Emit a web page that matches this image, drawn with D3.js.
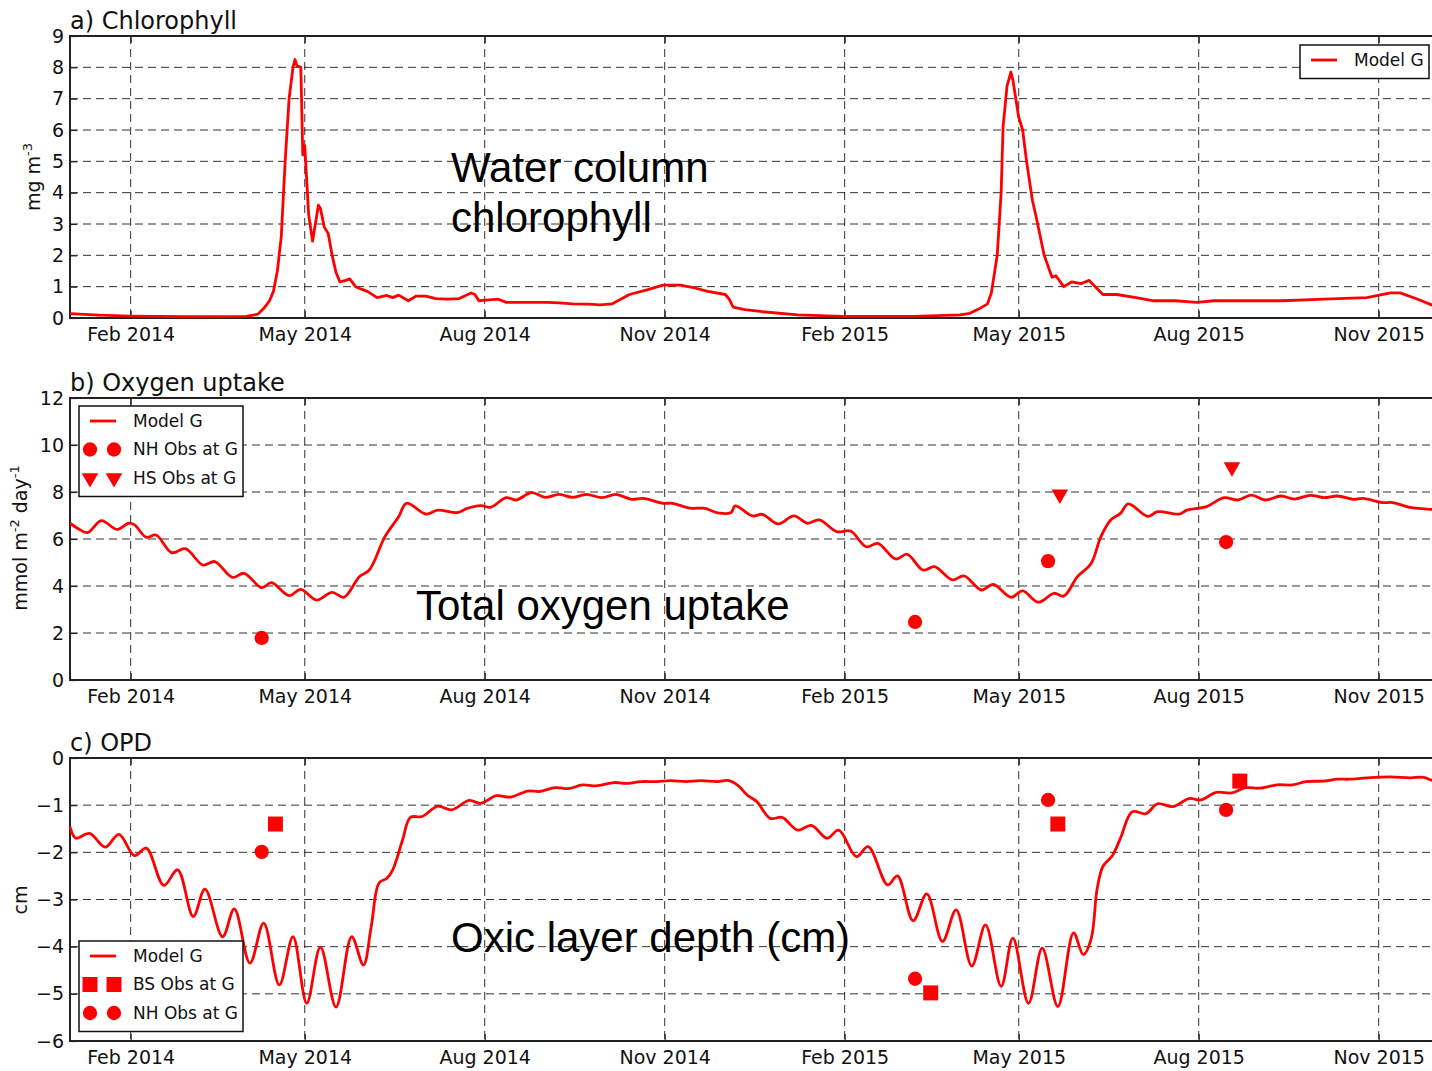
<!DOCTYPE html>
<html>
<head>
<meta charset="utf-8">
<script src="https://cdnjs.cloudflare.com/ajax/libs/d3/7.8.5/d3.min.js"></script>
<style>
  body { margin: 0; background: #fff; }
  svg { display: block; }
</style>
</head>
<body>
<div id="chart"></div>
<script>
// ---- data ----
const chlorophyll = [
  ["2014-01-01",0.14],["2014-01-16",0.09],["2014-02-01",0.06],["2014-03-02",0.04],["2014-04-01",0.05],
  ["2014-04-07",0.12],["2014-04-10",0.3],["2014-04-13",0.55],["2014-04-15",0.85],["2014-04-17",1.5],
  ["2014-04-19",2.6],["2014-04-21",5.0],["2014-04-23",7.0],["2014-04-25",8.0],["2014-04-26",8.25],
  ["2014-04-27",8.05],["2014-04-29",8.0],["2014-04-30",5.2],["2014-05-01",5.5],["2014-05-03",3.3],
  ["2014-05-05",2.45],["2014-05-08",3.6],["2014-05-09",3.5],["2014-05-11",2.9],["2014-05-13",2.7],
  ["2014-05-15",2.0],["2014-05-17",1.45],["2014-05-19",1.15],["2014-05-22",1.2],["2014-05-24",1.25],
  ["2014-05-27",1.0],["2014-05-30",0.92],["2014-06-02",0.85],["2014-06-07",0.65],["2014-06-12",0.72],
  ["2014-06-15",0.65],["2014-06-18",0.73],["2014-06-23",0.55],["2014-06-27",0.7],["2014-07-02",0.7],
  ["2014-07-07",0.62],["2014-07-13",0.6],["2014-07-19",0.62],["2014-07-25",0.8],["2014-07-27",0.75],
  ["2014-07-29",0.55],["2014-08-03",0.58],["2014-08-08",0.6],["2014-08-12",0.5],["2014-08-21",0.5],
  ["2014-09-02",0.5],["2014-09-08",0.48],["2014-09-15",0.45],["2014-09-23",0.44],["2014-09-29",0.42],
  ["2014-10-05",0.45],["2014-10-14",0.75],["2014-10-23",0.9],["2014-10-31",1.05],["2014-11-09",1.05],
  ["2014-11-17",0.95],["2014-11-23",0.85],["2014-12-02",0.75],["2014-12-04",0.6],["2014-12-06",0.35],
  ["2014-12-12",0.27],["2014-12-21",0.2],["2015-01-08",0.1],["2015-01-31",0.05],["2015-03-08",0.05],
  ["2015-04-01",0.1],["2015-04-06",0.15],["2015-04-11",0.3],["2015-04-15",0.45],["2015-04-17",0.8],
  ["2015-04-20",2.0],["2015-04-22",4.0],["2015-04-23",6.1],["2015-04-25",7.4],["2015-04-27",7.85],
  ["2015-04-28",7.6],["2015-05-01",6.4],["2015-05-03",6.0],["2015-05-05",5.0],["2015-05-08",3.75],
  ["2015-05-10",3.2],["2015-05-14",2.0],["2015-05-18",1.3],["2015-05-20",1.35],["2015-05-24",1.0],
  ["2015-05-28",1.15],["2015-06-02",1.1],["2015-06-06",1.2],["2015-06-13",0.75],["2015-06-20",0.75],
  ["2015-06-30",0.65],["2015-07-09",0.55],["2015-07-20",0.55],["2015-07-31",0.5],["2015-08-09",0.55],
  ["2015-08-19",0.55],["2015-09-13",0.55],["2015-10-04",0.6],["2015-10-26",0.65],["2015-11-07",0.8],
  ["2015-11-12",0.8],["2015-11-21",0.6],["2015-11-28",0.42],["2015-12-02",0.35]
];

const oxygenModel = [
  ["2014-01-01",6.67],["2014-01-05",6.45],["2014-01-10",6.27],["2014-01-17",6.78],["2014-01-25",6.41],
  ["2014-01-31",6.67],["2014-02-03",6.6],["2014-02-09",6.07],["2014-02-14",6.17],["2014-02-22",5.42],
  ["2014-03-01",5.59],["2014-03-10",4.89],["2014-03-16",5.04],["2014-03-25",4.37],["2014-03-31",4.54],
  ["2014-04-09",3.93],["2014-04-14",4.14],["2014-04-23",3.59],["2014-04-29",3.86],["2014-05-07",3.4],
  ["2014-05-15",3.73],["2014-05-21",3.52],["2014-05-29",4.4],["2014-06-03",4.68],["2014-06-11",6.1],
  ["2014-06-18",6.95],["2014-06-22",7.52],["2014-07-02",7.06],["2014-07-08",7.23],["2014-07-18",7.12],
  ["2014-07-23",7.3],["2014-07-30",7.42],["2014-08-04",7.35],["2014-08-12",7.76],["2014-08-17",7.66],
  ["2014-08-25",7.97],["2014-09-01",7.77],["2014-09-08",7.9],["2014-09-15",7.77],["2014-09-22",7.9],
  ["2014-09-30",7.76],["2014-10-07",7.9],["2014-10-15",7.69],["2014-10-21",7.73],["2014-10-31",7.52],
  ["2014-11-05",7.52],["2014-11-14",7.31],["2014-11-21",7.31],["2014-11-29",7.1],["2014-12-05",7.13],
  ["2014-12-07",7.41],["2014-12-16",6.98],["2014-12-21",7.05],["2014-12-29",6.64],["2015-01-06",6.98],
  ["2015-01-13",6.67],["2015-01-19",6.81],["2015-01-28",6.31],["2015-02-04",6.34],["2015-02-12",5.67],
  ["2015-02-18",5.81],["2015-02-27",5.15],["2015-03-05",5.35],["2015-03-13",4.68],["2015-03-19",4.82],
  ["2015-03-28",4.26],["2015-04-03",4.43],["2015-04-12",3.83],["2015-04-18",4.07],["2015-04-27",3.52],
  ["2015-05-03",3.79],["2015-05-11",3.31],["2015-05-19",3.69],["2015-05-24",3.57],["2015-05-31",4.4],
  ["2015-06-07",4.96],["2015-06-12",6.1],["2015-06-17",6.81],["2015-06-22",7.09],["2015-06-26",7.49],
  ["2015-07-06",6.96],["2015-07-11",7.16],["2015-07-22",7.06],["2015-07-26",7.23],["2015-08-05",7.38],
  ["2015-08-14",7.76],["2015-08-21",7.66],["2015-08-28",7.87],["2015-09-04",7.66],["2015-09-12",7.83],
  ["2015-09-19",7.7],["2015-09-27",7.86],["2015-10-04",7.76],["2015-10-11",7.83],["2015-10-19",7.69],
  ["2015-10-24",7.73],["2015-11-03",7.55],["2015-11-08",7.55],["2015-11-18",7.33],["2015-11-28",7.26],
  ["2015-12-02",7.24]
];
const oxygenNH = [["2014-04-09",1.79],["2015-03-09",2.47],["2015-05-16",5.06],["2015-08-15",5.87]];
const oxygenHS = [["2015-05-22",7.9],["2015-08-18",9.06]];

const opdModel = [
  ["2014-01-01",-1.46],["2014-01-04",-1.7],["2014-01-11",-1.6],["2014-01-19",-1.89],["2014-01-26",-1.62],
  ["2014-02-03",-2.07],["2014-02-09",-1.91],["2014-02-18",-2.7],["2014-02-25",-2.37],["2014-03-05",-3.36],
  ["2014-03-11",-2.78],["2014-03-20",-3.79],["2014-03-26",-3.2],["2014-04-03",-4.35],["2014-04-10",-3.5],
  ["2014-04-18",-4.81],["2014-04-25",-3.79],["2014-05-02",-5.2],["2014-05-09",-4.01],["2014-05-17",-5.28],
  ["2014-05-25",-3.79],["2014-05-31",-4.39],["2014-06-04",-3.57],["2014-06-08",-2.65],["2014-06-12",-2.55],
  ["2014-06-15",-2.37],["2014-06-20",-1.74],["2014-06-24",-1.26],["2014-06-30",-1.24],["2014-07-08",-1.02],
  ["2014-07-15",-1.1],["2014-07-24",-0.9],["2014-07-30",-0.96],["2014-08-07",-0.8],["2014-08-14",-0.83],
  ["2014-08-23",-0.7],["2014-08-29",-0.71],["2014-09-06",-0.63],["2014-09-13",-0.65],["2014-09-20",-0.57],
  ["2014-09-27",-0.59],["2014-10-06",-0.52],["2014-10-12",-0.54],["2014-10-20",-0.5],["2014-10-28",-0.5],
  ["2014-11-04",-0.48],["2014-11-12",-0.5],["2014-11-19",-0.48],["2014-11-28",-0.5],["2014-12-04",-0.48],
  ["2014-12-09",-0.6],["2014-12-13",-0.78],["2014-12-18",-0.92],["2014-12-25",-1.28],["2014-12-31",-1.26],
  ["2015-01-08",-1.53],["2015-01-15",-1.43],["2015-01-23",-1.7],["2015-01-29",-1.53],["2015-02-07",-2.09],
  ["2015-02-13",-1.88],["2015-02-23",-2.69],["2015-02-28",-2.5],["2015-03-08",-3.45],["2015-03-15",-2.88],
  ["2015-03-23",-3.89],["2015-03-30",-3.22],["2015-04-07",-4.41],["2015-04-14",-3.54],["2015-04-22",-4.84],
  ["2015-04-28",-3.82],["2015-05-06",-5.2],["2015-05-13",-4.03],["2015-05-21",-5.27],["2015-05-29",-3.71],
  ["2015-06-03",-4.17],["2015-06-07",-3.84],["2015-06-10",-2.8],["2015-06-13",-2.3],["2015-06-18",-2.06],
  ["2015-06-22",-1.7],["2015-06-28",-1.14],["2015-07-05",-1.18],["2015-07-11",-0.97],["2015-07-19",-1.03],
  ["2015-07-27",-0.86],["2015-08-02",-0.89],["2015-08-10",-0.73],["2015-08-18",-0.74],["2015-08-25",-0.63],
  ["2015-09-01",-0.64],["2015-09-10",-0.57],["2015-09-18",-0.57],["2015-09-25",-0.5],["2015-10-04",-0.49],
  ["2015-10-11",-0.45],["2015-10-17",-0.45],["2015-10-26",-0.42],["2015-11-07",-0.4],["2015-11-17",-0.42],
  ["2015-11-24",-0.41],["2015-11-28",-0.47],["2015-12-02",-0.5]
];
const opdBS = [["2014-04-16",-1.4],["2015-03-17",-4.98],["2015-05-21",-1.4],["2015-08-22",-0.49]];
const opdNH = [["2014-04-09",-1.99],["2015-03-09",-4.68],["2015-05-16",-0.89],["2015-08-15",-1.1]];

const monthTicks = ["2014-02-01","2014-05-01","2014-08-01","2014-11-01","2015-02-01","2015-05-01","2015-08-01","2015-11-01"];
const chlTicks = [0,1,2,3,4,5,6,7,8,9];
const o2Ticks = [0,2,4,6,8,10,12];
const opdTicks = [-6,-5,-4,-3,-2,-1,0];

// ---- layout ----
const W = 1432, H = 1071;
const RED = "#ff0000";
const FONT = "'DejaVu Sans', sans-serif";
const parse = d3.utcParse("%Y-%m-%d");
const fmtMonth = d3.utcFormat("%b %Y");

const svg = d3.select("#chart").append("svg")
  .attr("width", W).attr("height", H)
  .style("font-family", FONT);

const x = d3.scaleUtc()
  .domain([parse("2014-01-01"), parse("2016-01-01")])
  .range([70, 1498]);

function panel(top, bottom, domain, ticks, title) {
  const y = d3.scaleLinear().domain(domain).range([bottom, top]);
  const g = svg.append("g");
  const left = x.range()[0], right = x.range()[1];

  // grid
  g.selectAll(".hg").data(ticks.slice(1, -1)).enter().append("line")
    .attr("x1", left).attr("x2", right)
    .attr("y1", d => y(d)).attr("y2", d => y(d))
    .attr("stroke", "#000").attr("stroke-width", 1).attr("stroke-dasharray", "8,5").attr("opacity", 0.8);
  g.selectAll(".vg").data(monthTicks.map(parse)).enter().append("line")
    .attr("x1", d => x(d)).attr("x2", d => x(d))
    .attr("y1", top).attr("y2", bottom)
    .attr("stroke", "#000").attr("stroke-width", 1).attr("stroke-dasharray", "8,5").attr("opacity", 0.8);

  // axes with inward ticks
  const yAxis = g.append("g").attr("transform", "translate(" + left + ",0)")
    .call(d3.axisLeft(y).tickValues(ticks).tickSize(-7).tickPadding(6).tickFormat(d3.format("d")));
  yAxis.attr("font-family", null).attr("font-size", null);
  yAxis.select(".domain").remove();
  yAxis.selectAll("line").attr("stroke", "#222").attr("stroke-width", 1.2);
  yAxis.selectAll("text").style("font-family", FONT).style("font-size", "19px").attr("fill", "#111");

  const xAxis = g.append("g").attr("transform", "translate(0," + bottom + ")")
    .call(d3.axisBottom(x).tickValues(monthTicks.map(parse)).tickSize(-7).tickPadding(9.5).tickFormat(fmtMonth));
  xAxis.attr("font-family", null).attr("font-size", null);
  xAxis.select(".domain").remove();
  xAxis.selectAll("line").attr("stroke", "#222").attr("stroke-width", 1.2);
  xAxis.selectAll("text").style("font-family", FONT).style("font-size", "19px").attr("fill", "#111");

  const xTop = g.append("g").attr("transform", "translate(0," + top + ")")
    .call(d3.axisTop(x).tickValues(monthTicks.map(parse)).tickSize(-7).tickFormat(""));
  xTop.select(".domain").remove();
  xTop.selectAll("line").attr("stroke", "#222").attr("stroke-width", 1.2);

  // frame
  g.append("rect").attr("x", left).attr("y", top)
    .attr("width", right - left).attr("height", bottom - top)
    .attr("fill", "none").attr("stroke", "#222").attr("stroke-width", 2);

  svg.append("text").attr("x", left).attr("y", top - 7)
    .style("font-size", "24px").attr("fill", "#111").text(title);

  return { g, y, top, bottom };
}

function drawLine(p, data, curve) {
  const line = d3.line()
    .x(d => x(parse(d[0])))
    .y(d => p.y(d[1]))
    .curve(curve);
  p.g.append("path").datum(data)
    .attr("d", line)
    .attr("fill", "none").attr("stroke", RED).attr("stroke-width", 2.8)
    .attr("stroke-linejoin", "round");
}

function drawMarks(p, data, type, size, rot) {
  p.g.selectAll(null).data(data).enter().append("path")
    .attr("d", d3.symbol().type(type).size(size))
    .attr("transform", d => "translate(" + x(parse(d[0])) + "," + p.y(d[1]) + ")" + (rot ? " rotate(180)" : ""))
    .attr("fill", RED);
}

function legend(bx, by, bw, rows) {
  const lg = svg.append("g");
  lg.append("rect").attr("x", bx).attr("y", by).attr("width", bw).attr("height", rows.length * 28.5 + 5)
    .attr("fill", "#fff").attr("stroke", "#111").attr("stroke-width", 1.5);
  rows.forEach((r, i) => {
    const cy = by + 15 + i * 28.5;
    if (r.kind === "line") {
      lg.append("line").attr("x1", bx + 11).attr("x2", bx + 37).attr("y1", cy).attr("y2", cy)
        .attr("stroke", RED).attr("stroke-width", 2.8);
    } else {
      [bx + 11, bx + 35].forEach(mx => {
        lg.append("path").attr("d", d3.symbol().type(r.type).size(r.size))
          .attr("transform", "translate(" + mx + "," + cy + ")" + (r.rot ? " rotate(180)" : ""))
          .attr("fill", RED);
      });
    }
    lg.append("text").attr("x", bx + 54).attr("y", cy).attr("dy", "0.35em")
      .style("font-size", "17px").attr("fill", "#111").text(r.label);
  });
}

function note(px, py, lines, size) {
  const t = svg.append("text").attr("x", px).attr("y", py)
    .style("font-family", "'Liberation Sans', Arial, sans-serif").style("font-size", size + "px").attr("fill", "#000");
  lines.forEach((s, i) => t.append("tspan").attr("x", px).attr("dy", i === 0 ? 0 : 50).text(s));
}

function ylabel(px, py, parts) {
  const t = svg.append("text").attr("transform", "translate(" + px + "," + py + ") rotate(-90)")
    .attr("text-anchor", "middle").style("font-size", "19px").attr("fill", "#111");
  parts.forEach(p => {
    const ts = t.append("tspan").text(p[0]);
    if (p[1]) ts.attr("dy", p[1]);
    if (p[2]) ts.style("font-size", p[2] + "px");
  });
}

const pa = panel(36, 318, [0, 9], chlTicks, "a) Chlorophyll");
drawLine(pa, chlorophyll, d3.curveLinear);
note(451, 182, ["Water column", "chlorophyll"], 42);
legend(1300, 45, 129, [{ kind: "line", label: "Model G" }]);

const pb = panel(398, 680, [0, 12], o2Ticks, "b) Oxygen uptake");
drawLine(pb, oxygenModel, d3.curveCatmullRom.alpha(0.5));
drawMarks(pb, oxygenNH, d3.symbolCircle, 160);
drawMarks(pb, oxygenHS, d3.symbolTriangle, 120, true);
note(416, 620, ["Total oxygen uptake"], 42);
legend(79, 406, 164, [
  { kind: "line", label: "Model G" },
  { kind: "mark", type: d3.symbolCircle, size: 160, label: "NH Obs at G" },
  { kind: "mark", type: d3.symbolTriangle, size: 120, rot: true, label: "HS Obs at G" }
]);

const pc = panel(758, 1041, [-6, 0], opdTicks, "c) OPD");
drawLine(pc, opdModel, d3.curveCatmullRom.alpha(0.5));
drawMarks(pc, opdNH, d3.symbolCircle, 160);
drawMarks(pc, opdBS, d3.symbolSquare, 225);
note(451, 952, ["Oxic layer depth (cm)"], 42);
legend(79, 941, 164, [
  { kind: "line", label: "Model G" },
  { kind: "mark", type: d3.symbolSquare, size: 225, label: "BS Obs at G" },
  { kind: "mark", type: d3.symbolCircle, size: 160, label: "NH Obs at G" }
]);

ylabel(40, 177, [["mg m"], ["-3", -8, 13]]);
ylabel(27, 538, [["mmol m"], ["-2", -8, 13], [" day", 8], ["-1", -8, 13]]);
ylabel(27, 900, [["cm"]]);
</script>
</body>
</html>
